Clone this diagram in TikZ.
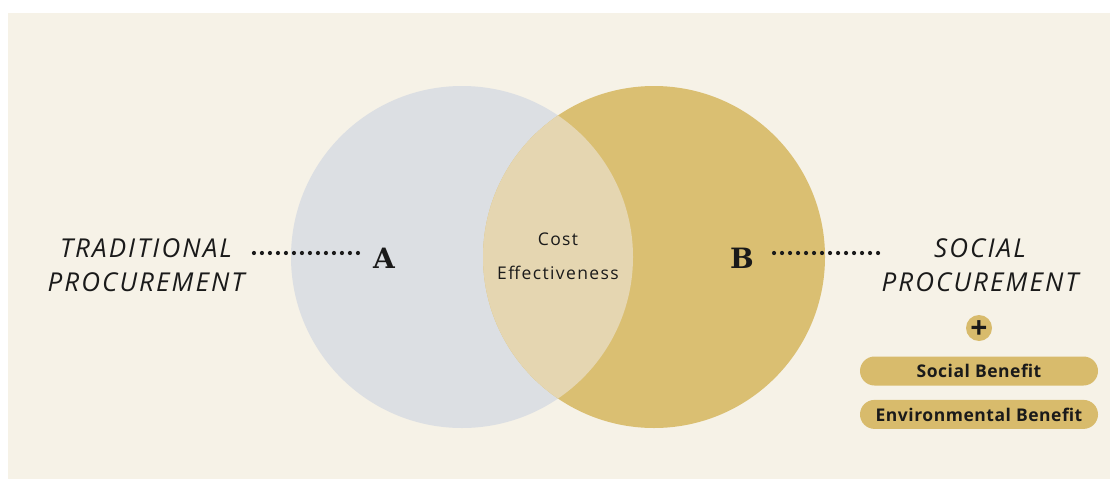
\documentclass[tikz,border=0pt]{standalone}
\usepackage{fontspec}
\setsansfont{Open Sans}
\newfontfamily\labelfont[LetterSpace=8]{Open Sans}
\newfontfamily\lensfont[LetterSpace=8]{Open Sans}
\newfontfamily\pillfont[LetterSpace=3]{Open Sans}
\newfontfamily\letterfont{DejaVu Serif}
\usetikzlibrary{positioning}

\definecolor{bgcream}{HTML}{F6F2E7}
\definecolor{circgrey}{HTML}{DCDFE3}
\definecolor{circgold}{HTML}{DABF72}
\definecolor{lensgold}{HTML}{E5D6B1}
\definecolor{pillgold}{HTML}{D8BB6C}
\definecolor{inkdark}{HTML}{1A1A1A}

\tikzset{
	bigword/.style={font=\fontsize{26}{30}\selectfont\labelfont\itshape, text=inkdark, inner sep=0pt},
	letternode/.style={font=\fontsize{28}{32}\selectfont\letterfont\bfseries, text=inkdark, inner sep=0pt},
	lensword/.style={font=\fontsize{17.5}{20}\selectfont\lensfont, text=inkdark, inner sep=0pt},
	pill/.style={fill=pillgold, rounded corners=14.5pt, minimum width=238pt, minimum height=29pt,
		inner sep=0pt, font=\fontsize{17.5}{20}\selectfont\pillfont\bfseries, text=inkdark},
	dotline/.style={inkdark, line width=4.2pt, line cap=round, dash pattern=on 0pt off 8pt}
}

\begin{document}
\begin{tikzpicture}[x=1pt,y=-1pt]
			\useasboundingbox[fill=white] (0,0) rectangle (1110,479);
			\fill[bgcream] (8,13) rectangle (1110,479);
			
			% the two sets and their overlap
			\fill[circgrey] (462,257) circle (171);
			\fill[circgold] (654,257) circle (171);
			\begin{scope}
				\clip (462,257) circle (171);
				\fill[lensgold] (654,257) circle (171);
			\end{scope}
			
			\node[lensword] (cost) at (558,239) {Cost};
			\node[lensword] (effect) at (558,273) {Effectiveness};
			
			\node[letternode] (A) at (384,258) {A};
			\node[letternode] (B) at (742,258) {B};
			
			% left label
			\node[bigword] (trad) at (146,248) {TRADITIONAL};
			\node[bigword] (tradproc) at (146,282) {PROCUREMENT};
			
			% right label
			\node[bigword] (soc) at (980,248) {SOCIAL};
			\node[bigword] (socproc) at (980,282) {PROCUREMENT};
			
			\draw[dotline] ([xshift=-15pt,yshift=5pt]A.west) -- ([xshift=-120pt,yshift=5pt]A.west);
			\draw[dotline] ([xshift=20pt,yshift=5pt]B.east) -- ([xshift=125pt,yshift=5pt]B.east);
			
			\node[circle, fill=pillgold, minimum size=26pt, inner sep=0pt] (plus) at (979,328) {};
			\node[font=\fontsize{30}{30}\selectfont\sffamily\bfseries, text=inkdark, inner sep=0pt,
				yshift=-2pt] (plussign) at (plus) {+};
			\node[pill] (social) at (979,371) {Social Benefit};
			\node[pill, below=14pt of social] (enviro) {Environmental Benefit};
\end{tikzpicture}
\end{document}
